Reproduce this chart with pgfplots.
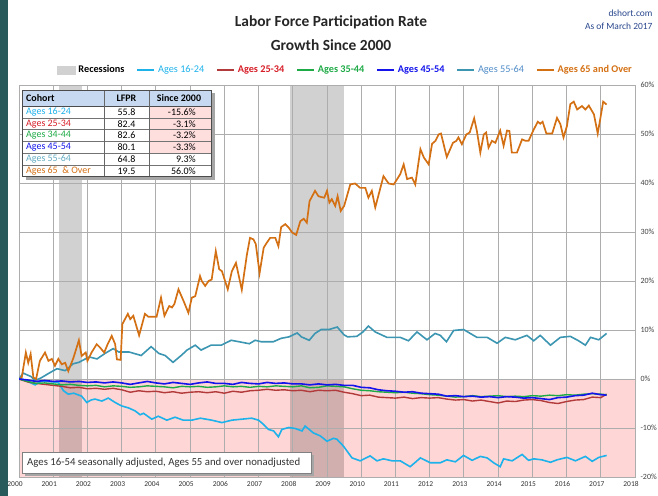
\documentclass[border=0pt]{standalone}
\usepackage{pgfplots}
\pgfplotsset{compat=1.18}
\usepackage{fontspec}
\setmainfont{Carlito}
\definecolor{c1624}{RGB}{30,178,235}
\definecolor{c2534}{RGB}{178,58,58}
\definecolor{t2534}{RGB}{215,30,40}
\definecolor{c3544}{RGB}{30,170,70}
\definecolor{c4554}{RGB}{20,20,235}
\definecolor{c5564}{RGB}{60,150,178}
\definecolor{t5564}{RGB}{80,140,200}
\definecolor{c65}{RGB}{212,112,20}
\definecolor{pinkbg}{RGB}{255,214,214}
\definecolor{hdr}{RGB}{198,217,240}
\definecolor{pinkcell}{RGB}{255,222,222}
\definecolor{darkteal}{RGB}{40,90,92}
\definecolor{navy}{RGB}{40,70,140}
\begin{document}
\begin{tikzpicture}[x=1bp,y=1bp]
\fill[darkteal] (0,0) rectangle (8,496);
% titles
\node[font=\fontsize{15.5}{17}\selectfont\bfseries, text=black!85] at (331,473.5) {Labor Force Participation Rate};
\node[font=\fontsize{15.5}{17}\selectfont\bfseries, text=black!85] at (331,451) {Growth Since 2000};
\node[font=\fontsize{9.5}{11}\selectfont, text=navy, anchor=east] at (656,483) {dshort.com};
\node[font=\fontsize{9.5}{11}\selectfont, text=navy, anchor=east] at (656,469.5) {As of March 2017};
\begin{axis}[
  at={(19bp,19bp)}, anchor=south west,
  scale only axis, width=616bp, height=392bp,
  xmin=2000, xmax=2018, ymin=-20, ymax=60,
  xtick={2000,2001,...,2018}, ytick={-20,-10,...,60},
  /pgf/number format/assume math mode=true,
  x tick label style={/pgf/number format/1000 sep={}, font=\fontsize{7.5}{8}\selectfont, text=black!80, xshift=-4bp, yshift=-1bp},
  yticklabel={\pgfmathprintnumber{\tick}\%},
  yticklabel pos=right,
  y tick label style={font=\fontsize{8}{9}\selectfont, text=black!75, xshift=2bp},
  grid=major, major grid style={black!32, line width=0.9bp},
  axis line style={black!32, line width=0.9bp},
  tick style={draw=none},
  set layers,
  legend style={at={(0.53,1.038)}, anchor=center, draw=none, fill=none,
    font=\fontsize{10.3}{11}\selectfont\bfseries, inner sep=0pt,
    /tikz/every even column/.append style={column sep=10bp},
    /tikz/every odd column/.append style={column sep=1bp}},
  legend columns=-1,
  legend image code/.code={\draw[#1, line width=1.6bp] (0bp,0bp) -- (17bp,0bp);},
]
\addplot[fill=pinkbg, draw=none, on layer=axis background, forget plot] coordinates {(2000,-20) (2018,-20) (2018,0) (2000,0)} -- cycle;
\addplot[fill=black, fill opacity=0.18, draw=none, on layer=axis background, forget plot] coordinates {(2001.17,-20) (2001.83,-20) (2001.83,60) (2001.17,60)} -- cycle;
\addplot[fill=black, fill opacity=0.18, draw=none, on layer=axis background, forget plot] coordinates {(2007.92,-20) (2009.5,-20) (2009.5,60) (2007.92,60)} -- cycle;

% Ages 16-24
\addplot[c1624, line width=1.6bp, forget plot] coordinates {
(2000.0,0) (2000.08,0) (2000.25,-0.5) (2000.47,-1.2) (2000.65,-0.4) (2000.85,-0.5) (2001.15,-0.7) (2001.3,-2.4) (2001.44,-3.1) (2001.6,-2.9) (2001.83,-3.5) (2001.98,-4.8) (2002.1,-4.3) (2002.22,-4.1) (2002.42,-4.5) (2002.61,-3.9) (2002.81,-4.8) (2003.0,-5.5) (2003.2,-5.9) (2003.39,-6.5) (2003.54,-7.3) (2003.64,-7.0) (2003.88,-8.2) (2004.07,-7.6) (2004.32,-8.4) (2004.56,-7.8) (2004.8,-8.4) (2005.05,-8.4) (2005.3,-8.0) (2005.63,-8.4) (2005.93,-8.9) (2006.22,-8.4) (2006.51,-8.2) (2006.8,-8.0) (2007.0,-8.4) (2007.15,-9.3) (2007.29,-10.3) (2007.44,-10.6) (2007.58,-11.8) (2007.68,-10.3) (2007.88,-9.9) (2008.07,-10.1) (2008.27,-10.6) (2008.36,-9.6) (2008.6,-11.0) (2008.8,-11.6) (2009.0,-12.7) (2009.19,-12.1) (2009.29,-12.3) (2009.48,-13.7) (2009.73,-16.1) (2009.97,-16.7) (2010.26,-15.7) (2010.46,-16.7) (2010.65,-16.3) (2010.9,-16.7) (2011.14,-16.7) (2011.43,-17.9) (2011.73,-16.1) (2012.02,-17.1) (2012.31,-17.1) (2012.5,-16.5) (2012.75,-16.9) (2012.99,-15.6) (2013.24,-16.6) (2013.48,-15.8) (2013.68,-16.1) (2013.87,-17.1) (2014.06,-17.9) (2014.16,-16.3) (2014.41,-16.7) (2014.7,-15.4) (2014.89,-16.6) (2015.04,-16.3) (2015.28,-16.5) (2015.53,-17.0) (2015.72,-16.5) (2016.01,-16.0) (2016.26,-16.7) (2016.55,-15.8) (2016.75,-16.8) (2016.94,-16.0) (2017.17,-15.6)};

% Ages 55-64
\addplot[c5564, line width=1.6bp, forget plot] coordinates {
(2000.0,0) (2000.12,1.2) (2000.35,0.5) (2000.47,-0.3) (2000.64,0.2) (2000.88,1.2) (2001.11,2.1) (2001.35,1.7) (2001.58,3.1) (2001.75,3.4) (2002.05,4.5) (2002.28,4.1) (2002.51,5.2) (2002.75,6.2) (2002.92,5.5) (2003.22,5.5) (2003.57,4.8) (2003.86,6.6) (2004.09,5.2) (2004.27,4.8) (2004.5,3.4) (2004.74,4.8) (2004.91,5.9) (2005.15,6.9) (2005.32,5.9) (2005.61,6.9) (2005.91,6.9) (2006.2,7.9) (2006.43,7.6) (2006.73,7.2) (2006.9,7.9) (2007.08,7.6) (2007.43,7.6) (2007.66,8.3) (2007.89,8.6) (2008.13,9.4) (2008.25,8.6) (2008.48,7.9) (2008.65,9.3) (2008.83,10.1) (2009.06,10.1) (2009.3,10.6) (2009.5,9.0) (2009.6,8.6) (2009.87,8.7) (2010.05,9.6) (2010.21,10.8) (2010.41,9.6) (2010.75,8.5) (2011.14,8.5) (2011.38,7.8) (2011.63,9.6) (2011.92,8.0) (2012.16,9.3) (2012.31,8.9) (2012.49,7.6) (2012.7,9.9) (2012.99,10.1) (2013.38,8.5) (2013.68,8.5) (2013.97,7.3) (2014.21,8.5) (2014.5,8.0) (2014.84,8.9) (2015.04,7.8) (2015.23,8.9) (2015.53,6.9) (2015.82,8.5) (2016.11,8.7) (2016.35,7.8) (2016.55,6.9) (2016.7,8.5) (2016.94,8.0) (2017.17,9.3)};

% Ages 65 and over
\addplot[c65, line width=1.7bp, forget plot] coordinates {
(2000.0,0) (2000.08,0.3) (2000.2,5.4) (2000.27,3.3) (2000.34,5.1) (2000.42,0.3) (2000.5,0.0) (2000.61,3.7) (2000.76,5.4) (2000.86,3.7) (2000.96,4.1) (2001.05,2.7) (2001.15,4.1) (2001.25,3.0) (2001.35,3.3) (2001.44,1.6) (2001.59,4.3) (2001.75,7.9) (2001.83,4.7) (2001.95,5.4) (2002.0,3.7) (2002.12,5.4) (2002.27,7.1) (2002.37,6.4) (2002.49,5.4) (2002.59,7.1) (2002.71,8.8) (2002.81,7.1) (2002.86,4.0) (2002.97,3.9) (2003.02,11.2) (2003.18,13.3) (2003.25,12.2) (2003.34,12.9) (2003.51,8.9) (2003.68,13.3) (2003.78,12.7) (2004.02,12.7) (2004.15,16.6) (2004.25,12.9) (2004.39,14.9) (2004.47,14.6) (2004.54,15.3) (2004.66,18.3) (2004.81,15.9) (2004.95,13.5) (2005.05,16.6) (2005.15,16.9) (2005.29,21.0) (2005.34,20.0) (2005.44,19.0) (2005.54,20.0) (2005.63,20.3) (2005.75,26.1) (2005.85,22.4) (2005.93,22.0) (2006.1,18.3) (2006.22,22.0) (2006.34,23.7) (2006.51,18.2) (2006.66,25.4) (2006.75,28.8) (2006.85,28.5) (2006.92,27.5) (2007.03,21.6) (2007.15,26.8) (2007.24,27.8) (2007.34,28.8) (2007.49,28.8) (2007.58,27.1) (2007.66,31.0) (2007.78,31.6) (2007.88,30.9) (2007.98,29.9) (2008.1,29.4) (2008.22,32.2) (2008.32,32.7) (2008.41,31.9) (2008.49,36.3) (2008.65,38.4) (2008.75,37.3) (2008.85,37.1) (2008.92,37.0) (2009.0,38.4) (2009.07,36.0) (2009.14,36.7) (2009.24,35.3) (2009.31,37.3) (2009.4,34.3) (2009.5,35.3) (2009.68,39.7) (2009.82,39.9) (2009.97,39.0) (2010.12,39.0) (2010.21,37.0) (2010.31,38.4) (2010.41,35.0) (2010.65,41.4) (2010.8,39.9) (2010.95,39.7) (2011.14,41.8) (2011.24,43.8) (2011.34,40.8) (2011.48,41.1) (2011.58,39.7) (2011.73,46.9) (2011.83,45.2) (2011.97,43.8) (2012.07,48.0) (2012.17,48.6) (2012.26,49.9) (2012.33,50.1) (2012.5,45.3) (2012.68,48.2) (2012.78,48.6) (2012.84,49.3) (2012.94,47.9) (2013.07,49.9) (2013.17,50.3) (2013.3,53.2) (2013.38,50.6) (2013.48,46.2) (2013.58,49.9) (2013.65,50.3) (2013.72,47.2) (2013.82,48.6) (2013.92,48.2) (2014.06,50.7) (2014.16,47.6) (2014.26,50.7) (2014.33,50.6) (2014.4,46.2) (2014.55,46.2) (2014.7,48.9) (2014.8,48.6) (2014.89,48.6) (2015.04,50.9) (2015.16,52.5) (2015.23,52.1) (2015.3,52.5) (2015.41,50.1) (2015.58,50.1) (2015.72,53.3) (2015.82,52.0) (2015.91,49.3) (2016.01,51.6) (2016.11,56.1) (2016.21,56.6) (2016.31,55.0) (2016.45,55.7) (2016.55,55.0) (2016.65,55.8) (2016.8,54.0) (2016.91,50.1) (2016.99,53.3) (2017.07,56.6) (2017.17,56.0)};

% Ages 25-34
\addplot[c2534, line width=1.4bp, forget plot] coordinates {
(2000.0,0) (2000.25,-0.6) (2000.5,-0.9) (2000.75,-1.1) (2001.0,-1.3) (2001.25,-1.5) (2001.5,-1.8) (2001.75,-1.7) (2002.0,-2.0) (2002.25,-1.9) (2002.5,-2.1) (2002.75,-1.9) (2003.0,-2.2) (2003.25,-2.7) (2003.5,-2.4) (2003.75,-2.6) (2004.0,-2.5) (2004.25,-2.8) (2004.5,-2.6) (2004.75,-2.9) (2005.0,-2.7) (2005.25,-2.6) (2005.5,-2.8) (2005.75,-2.6) (2006.0,-2.9) (2006.25,-2.5) (2006.5,-2.7) (2006.75,-2.4) (2007.0,-2.3) (2007.25,-2.1) (2007.5,-2.3) (2007.75,-2.2) (2008.0,-2.4) (2008.25,-2.3) (2008.5,-2.6) (2008.75,-2.3) (2009.0,-2.4) (2009.25,-2.3) (2009.5,-2.7) (2009.75,-3.0) (2010.0,-3.4) (2010.25,-3.3) (2010.5,-3.7) (2010.75,-3.8) (2011.0,-3.9) (2011.25,-3.7) (2011.5,-4.0) (2011.75,-3.8) (2012.0,-3.9) (2012.25,-3.8) (2012.5,-4.1) (2012.75,-4.3) (2013.0,-4.2) (2013.25,-4.5) (2013.5,-4.3) (2013.75,-4.6) (2014.0,-4.9) (2014.25,-4.5) (2014.5,-4.6) (2014.75,-4.3) (2015.0,-4.2) (2015.25,-4.4) (2015.5,-4.8) (2015.75,-5.0) (2016.0,-4.6) (2016.25,-4.3) (2016.5,-4.2) (2016.75,-3.7) (2017.0,-3.8) (2017.17,-3.1)};

% Ages 35-44
\addplot[c3544, line width=1.4bp, forget plot] coordinates {
(2000.0,0) (2000.25,-0.5) (2000.5,-0.9) (2000.75,-0.8) (2001.0,-1.0) (2001.25,-1.2) (2001.5,-1.1) (2001.75,-1.3) (2002.0,-1.4) (2002.25,-1.3) (2002.5,-1.6) (2002.75,-1.4) (2003.0,-1.5) (2003.25,-1.7) (2003.5,-1.6) (2003.75,-1.4) (2004.0,-1.5) (2004.25,-1.6) (2004.5,-1.8) (2004.75,-1.5) (2005.0,-1.6) (2005.25,-1.5) (2005.5,-1.7) (2005.75,-1.6) (2006.0,-1.4) (2006.25,-1.6) (2006.5,-1.5) (2006.75,-1.7) (2007.0,-1.5) (2007.25,-1.6) (2007.5,-1.4) (2007.75,-1.5) (2008.0,-1.6) (2008.25,-1.4) (2008.5,-1.8) (2008.75,-1.7) (2009.0,-1.4) (2009.25,-1.5) (2009.5,-1.6) (2009.75,-2.0) (2010.0,-2.3) (2010.25,-2.4) (2010.5,-2.6) (2010.75,-2.7) (2011.0,-2.8) (2011.25,-2.7) (2011.5,-2.9) (2011.75,-3.0) (2012.0,-3.2) (2012.25,-3.3) (2012.5,-3.5) (2012.75,-3.7) (2013.0,-3.6) (2013.25,-3.4) (2013.5,-3.6) (2013.75,-3.5) (2014.0,-3.4) (2014.25,-3.6) (2014.5,-3.5) (2014.75,-3.6) (2015.0,-3.4) (2015.25,-3.5) (2015.5,-3.3) (2015.75,-3.4) (2016.0,-3.2) (2016.25,-3.3) (2016.5,-3.1) (2016.75,-3.0) (2017.0,-3.1) (2017.17,-3.2)};

% Ages 45-54
\addplot[c4554, line width=1.6bp, forget plot] coordinates {
(2000.0,0) (2000.25,-0.2) (2000.5,-0.5) (2000.75,-0.3) (2001.0,-0.5) (2001.25,-0.4) (2001.5,-0.6) (2001.75,-0.5) (2002.0,-0.7) (2002.25,-0.6) (2002.5,-0.8) (2002.75,-0.6) (2003.0,-0.8) (2003.25,-1.1) (2003.5,-0.8) (2003.75,-0.5) (2004.0,-0.8) (2004.25,-1.0) (2004.5,-0.7) (2004.75,-0.9) (2005.0,-1.1) (2005.25,-0.8) (2005.5,-0.6) (2005.75,-0.9) (2006.0,-0.9) (2006.25,-1.1) (2006.5,-0.7) (2006.75,-0.9) (2007.0,-1.0) (2007.25,-0.7) (2007.5,-0.9) (2007.75,-0.8) (2008.0,-1.0) (2008.25,-1.0) (2008.5,-1.2) (2008.75,-1.0) (2009.0,-1.2) (2009.25,-1.1) (2009.5,-1.3) (2009.75,-1.3) (2010.0,-1.7) (2010.25,-1.8) (2010.5,-2.2) (2010.75,-2.4) (2011.0,-2.5) (2011.25,-2.7) (2011.5,-2.6) (2011.75,-2.9) (2012.0,-3.0) (2012.25,-3.1) (2012.5,-3.5) (2012.75,-3.4) (2013.0,-3.6) (2013.25,-3.5) (2013.5,-3.7) (2013.75,-3.6) (2014.0,-3.8) (2014.25,-3.6) (2014.5,-3.7) (2014.75,-3.9) (2015.0,-3.8) (2015.25,-4.0) (2015.5,-4.2) (2015.75,-3.8) (2016.0,-3.7) (2016.25,-3.4) (2016.5,-3.3) (2016.75,-2.9) (2017.0,-3.2) (2017.17,-3.3)};

\addlegendimage{legend image code/.code={\fill[black!18] (0bp,-4bp) rectangle (18bp,4bp);}}
\addlegendentry{Recessions}
\addlegendimage{c1624}
\addlegendentry{\mdseries\textcolor{c1624}{Ages 16-24}}
\addlegendimage{c2534}
\addlegendentry{\textcolor{t2534}{Ages 25-34}}
\addlegendimage{c3544}
\addlegendentry{\textcolor{c3544}{Ages 35-44}}
\addlegendimage{c4554}
\addlegendentry{\textcolor{c4554}{Ages 45-54}}
\addlegendimage{c5564}
\addlegendentry{\mdseries\textcolor{t5564}{Ages 55-64}}
\addlegendimage{c65}
\addlegendentry{\textcolor{c65}{Ages 65 and Over}}
\end{axis}
% summary table
\fill[black!35] (25.7,316.3) rectangle (214.7,403);
\fill[white] (22.7,319.3) rectangle (211.7,406);
\fill[hdr] (22.7,390) rectangle (211.7,406);
\foreach \i in {0,1,2,3} {\fill[pinkcell] (149,{390-11.8*\i}) rectangle (211.7,{378.2-11.8*\i});}
\foreach \i in {1,...,5} {\draw[black!55, line width=0.5bp] (22.7,{390-11.8*\i}) -- (211.7,{390-11.8*\i});}
\draw[black!70, line width=0.7bp] (22.7,390) -- (211.7,390);
\draw[black!60, line width=0.6bp] (104,319.3) -- (104,406);
\draw[black!60, line width=0.6bp] (149,319.3) -- (149,406);
\draw[black!70, line width=0.9bp] (22.7,319.3) rectangle (211.7,406);
\begin{scope}[every node/.style={font=\fontsize{10}{11}\selectfont, inner sep=0pt}]
\node[anchor=west, font=\fontsize{10}{11}\selectfont\bfseries] at (26,398) {Cohort};
\node[font=\fontsize{10}{11}\selectfont\bfseries] at (126.5,398) {LFPR};
\node[font=\fontsize{10}{11}\selectfont\bfseries] at (179,398) {Since 2000};
\node[anchor=west, text=c1624] at (26,384.1) {Ages 16-24};
\node[anchor=west, text=t2534] at (26,372.3) {Ages 25-34};
\node[anchor=west, text=c3544] at (26,360.5) {Ages 34-44};
\node[anchor=west, text=c4554] at (26,348.7) {Ages 45-54};
\node[anchor=west, text=c5564!80] at (26,336.9) {Ages 55-64};
\node[anchor=west, text=c65] at (26,325.1) {Ages 65 \ \& Over};
\node at (126.5,384.1) {55.8};
\node at (126.5,372.3) {82.4};
\node at (126.5,360.5) {82.6};
\node at (126.5,348.7) {80.1};
\node at (126.5,336.9) {64.8};
\node at (126.5,325.1) {19.5};
\node[anchor=east] at (196,384.1) {-15.6\%};
\node[anchor=east] at (196,372.3) {-3.1\%};
\node[anchor=east] at (196,360.5) {-3.2\%};
\node[anchor=east] at (196,348.7) {-3.3\%};
\node[anchor=east] at (196,336.9) {9.3\%};
\node[anchor=east] at (196,325.1) {56.0\%};
\end{scope}
% note box
\fill[black!35] (25,20) rectangle (314,41);
\fill[white] (22,23) rectangle (311,44);
\draw[black!50, line width=0.6bp] (22,23) rectangle (311,44);
\node[anchor=west, font=\fontsize{10.8}{11}\selectfont, text=black!80, inner sep=0pt] at (27,33.5) {Ages 16-54 seasonally adjusted, Ages 55 and over nonadjusted};
\pgfresetboundingbox
\useasboundingbox (0,0) rectangle (658,496);
\end{tikzpicture}
\end{document}
